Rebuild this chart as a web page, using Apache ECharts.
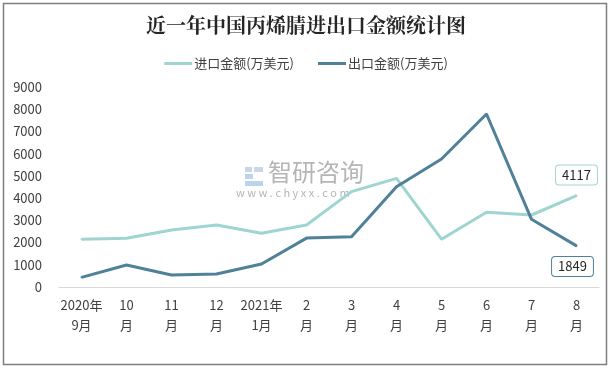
<!DOCTYPE html>
<html><head><meta charset="utf-8">
<script src="https://cdn.jsdelivr.net/npm/echarts@6/dist/echarts.min.js"></script>
<style>html,body{margin:0;padding:0;background:#fff}#c{width:612px;height:369px}</style>
</head><body><div id="c"></div>
<script>
const categories = ['2020年\n9月','10\n月','11\n月','12\n月','2021年\n1月','2\n月','3\n月','4\n月','5\n月','6\n月','7\n月','8\n月'];
const importValues = [2150, 2190, 2565, 2790, 2415, 2790, 4290, 4890, 2150, 3360, 3240, 4117];
const exportValues = [435, 990, 540, 585, 1035, 2200, 2265, 4515, 5760, 7785, 3045, 1849];
const yTicks = {min: 0, max: 9000, interval: 1000};
const seriesNames = ['进口金额(万美元)', '出口金额(万美元)'];
const titleText = '近一年中国丙烯腈进出口金额统计图';

const cImp = '#9fd5d1', cExp = '#4f8199';
const font = '"Noto Sans CJK SC", "Microsoft YaHei", sans-serif';
const chart = echarts.init(document.getElementById('c'));
const lastIdx = categories.length - 1;
function withLastLabel(values, color, pos, offset) {
  return values.map((v, i) => i !== lastIdx ? v : {
    value: v,
    label: {
      show: true, position: pos, distance: 10, offset: offset,
      backgroundColor: '#fff', borderColor: color, borderWidth: 1, borderRadius: 3,
      padding: [3, 6], color: '#262626', fontSize: 13, fontFamily: font
    }
  });
}
chart.setOption({
  animation: false,
  title: {text: titleText, left: 'center', top: 10,
    textStyle: {fontSize: 20, fontWeight: 'bold', color: '#262626', fontFamily: '"Noto Serif CJK SC","Noto Sans CJK SC", serif'}},
  legend: {top: 52, left: 'center', itemWidth: 28, itemHeight: 3, itemGap: 24, icon: 'rect',
    textStyle: {fontSize: 13, color: '#404040', fontFamily: font, padding: [0,0,0,-3]},
    data: seriesNames},
  grid: {left: 59, right: 13, top: 87, bottom: 82},
  xAxis: {type: 'category', data: categories, boundaryGap: true,
    axisLine: {lineStyle: {color: '#d9d9d9', width: 1}}, axisTick: {show: false},
    axisLabel: {color: '#404040', fontSize: 13, fontFamily: font, lineHeight: 20, margin: 8, interval: 0}},
  yAxis: {type: 'value', min: yTicks.min, max: yTicks.max, interval: yTicks.interval,
    axisLine: {show: false}, axisTick: {show: false}, splitLine: {show: false},
    axisLabel: {color: '#404040', fontSize: 13, fontFamily: font, margin: 17, formatter: v => String(v)}},
  graphic: [
    {type: 'rect', shape: {x: 3.5, y: 3.5, width: 603, height: 361}, style: {fill: 'none', stroke: '#7f7f7f', lineWidth: 1.5}, z: -10},
    {type: 'rect', shape: {x: 245, y: 167, width: 7, height: 5}, style: {fill: '#c9d6e8'}, z: -5},
    {type: 'rect', shape: {x: 254, y: 167, width: 9, height: 5}, style: {fill: '#c9d6e8'}, z: -5},
    {type: 'rect', shape: {x: 245, y: 174, width: 8, height: 5}, style: {fill: '#bcd3ee'}, z: -5},
    {type: 'rect', shape: {x: 245, y: 181, width: 18, height: 5}, style: {fill: '#bcd3ee'}, z: -5},
    {type: 'text', x: 268, y: 160, style: {text: '智研咨询', fontSize: 24, fill: '#b5b5b5', fontFamily: font}, z: -5},
    {type: 'text', x: 236, y: 187, style: {text: 'w w w . c h y x x . c o m', fontSize: 11, fill: '#b5b5b5', fontFamily: font}, z: -5}
  ],
  series: [
    {name: seriesNames[0], type: 'line', data: withLastLabel(importValues, cImp, 'top', [0, 0]),
      symbol: 'circle', symbolSize: 2, showSymbol: true, itemStyle: {color: cImp}, color: cImp,
      lineStyle: {width: 3, color: cImp}, z: 2},
    {name: seriesNames[1], type: 'line', data: withLastLabel(exportValues, cExp, 'bottom', [-4, 0]),
      symbol: 'circle', symbolSize: 2, showSymbol: true, itemStyle: {color: cExp}, color: cExp,
      lineStyle: {width: 3, color: cExp}, z: 3}
  ]
});
</script></body></html>
